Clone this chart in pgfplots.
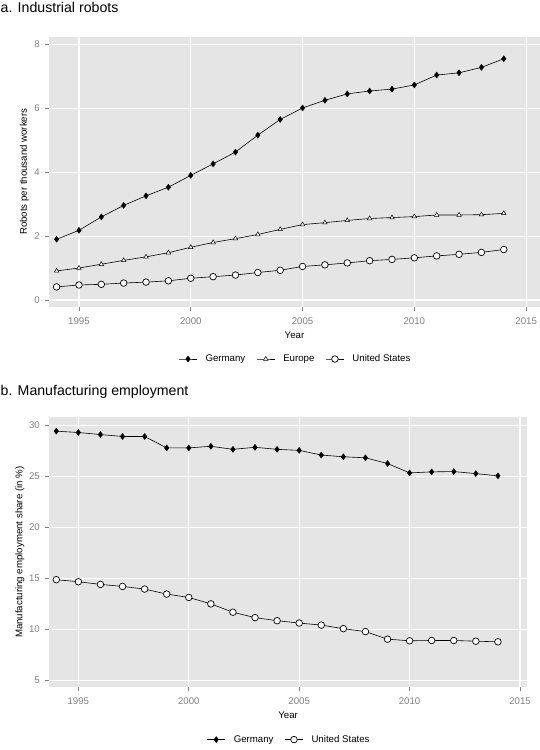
\documentclass[border=0pt]{standalone}
\usepackage{fontspec}
\setmainfont{Liberation Sans}
\usepackage{pgfplots}
\pgfplotsset{compat=1.18}
\definecolor{panelbg}{HTML}{E5E5E5}
\definecolor{tickgray}{HTML}{7F7F7F}
\newcommand{\smallf}{\fontsize{9.7}{11}\selectfont}
\pgfplotsset{
  ggstyle/.style={
    scale only axis,
    axis background/.style={fill=panelbg},
    axis line style={draw=none},
    grid=major,
    major grid style={white, line width=1.1bp},
    tick align=outside,
    major tick length=4bp,
    tick style={tickgray, line width=0.6bp},
    xtick pos=left, ytick pos=left,
    ticklabel style={font=\smallf, text=tickgray},
    /pgf/number format/assume math mode=true,
    /pgf/number format/1000 sep={},
    xtick={1995,2000,2005,2010,2015},
    xticklabel style={anchor=north, inner sep=0pt, yshift=-6.5bp},
    yticklabel style={anchor=east, inner sep=0pt, xshift=-5bp},
    every axis x label/.style={at={(axis description cs:0.5,0)}, anchor=center, yshift=-28.3bp, font=\smallf},
    legend style={draw=none, fill=none, font=\smallf, at={(0.5,0)}, anchor=center, yshift=-52.3bp,
      nodes={inner xsep=0pt, inner ysep=1pt},
      /tikz/every odd column/.append style={column sep=8bp},
      /tikz/every even column/.append style={column sep=11bp}},
    legend image code/.code={\draw[mark repeat=2, mark phase=2, #1] plot coordinates {(0bp,0bp) (9.2bp,0bp) (18.4bp,0bp)};},
  },
  ger/.style={black, line width=0.6bp, mark=diamond*, mark size=3bp, mark options={fill=black, line width=0.4bp}},
  eur/.style={black, line width=0.6bp, mark=triangle*, mark size=2.6bp, mark options={fill=white, line width=0.5bp}},
  usa/.style={black, line width=0.6bp, mark=*, mark size=3.3bp, mark options={fill=white, line width=0.7bp}},
}
\begin{document}
\begin{tikzpicture}
\path[use as bounding box] (0bp,0bp) rectangle (540bp,-750bp);
\node[anchor=base west, inner sep=0pt, font=\fontsize{14.2}{16}\selectfont] at (0.5bp,-12.3bp) {a. Industrial robots};
\node[anchor=base west, inner sep=0pt, font=\fontsize{14.2}{16}\selectfont] at (0.5bp,-395.8bp) {b. Manufacturing employment};
\begin{axis}[ggstyle,
  at={(49bp,-306.7bp)}, anchor=south west,
  width=491bp, height=270bp,
  xmin=1993.66, xmax=2015.62, ymin=-0.21, ymax=8.24,
  ytick={0,2,4,6,8},
  xlabel={Year},
  ylabel={Robots per thousand workers},
  every axis y label/.style={at={(axis description cs:0,0.5)}, xshift=-24.5bp, rotate=90, anchor=center, font=\smallf},
  legend columns=3,
]
\addplot[ger] coordinates {
(1994,1.90) (1995,2.18) (1996,2.60) (1997,2.96) (1998,3.26) (1999,3.53) (2000,3.90)
(2001,4.26) (2002,4.63) (2003,5.16) (2004,5.65) (2005,6.01) (2006,6.25) (2007,6.45)
(2008,6.54) (2009,6.60) (2010,6.73) (2011,7.04) (2012,7.11) (2013,7.28) (2014,7.55)};
\addlegendentry{Germany}
\addplot[eur] coordinates {
(1994,0.91) (1995,1.00) (1996,1.12) (1997,1.24) (1998,1.35) (1999,1.48) (2000,1.65)
(2001,1.80) (2002,1.92) (2003,2.05) (2004,2.21) (2005,2.36) (2006,2.42) (2007,2.49)
(2008,2.55) (2009,2.58) (2010,2.61) (2011,2.66) (2012,2.66) (2013,2.67) (2014,2.71)};
\addlegendentry{Europe}
\addplot[usa] coordinates {
(1994,0.41) (1995,0.47) (1996,0.49) (1997,0.53) (1998,0.56) (1999,0.60) (2000,0.68)
(2001,0.73) (2002,0.78) (2003,0.86) (2004,0.93) (2005,1.05) (2006,1.10) (2007,1.16)
(2008,1.23) (2009,1.27) (2010,1.32) (2011,1.38) (2012,1.43) (2013,1.49) (2014,1.58)};
\addlegendentry{United States}
\end{axis}
\begin{axis}[ggstyle,
  at={(49bp,-687.3bp)}, anchor=south west,
  width=478.3bp, height=270bp,
  xmin=1993.67, xmax=2015.33, ymin=4.3, ymax=30.77,
  ytick={5,10,15,20,25,30},
  xlabel={Year},
  ylabel={Manufacturing employment share (in \%)},
  every axis y label/.style={at={(axis description cs:0,0.5)}, xshift=-29bp, rotate=90, anchor=center, font=\smallf},
  legend columns=2,
]
\addplot[ger] coordinates {
(1994,29.41) (1995,29.28) (1996,29.08) (1997,28.89) (1998,28.89) (1999,27.77) (2000,27.77)
(2001,27.93) (2002,27.63) (2003,27.83) (2004,27.63) (2005,27.53) (2006,27.07) (2007,26.90)
(2008,26.80) (2009,26.24) (2010,25.32) (2011,25.42) (2012,25.45) (2013,25.25) (2014,25.03)};
\addlegendentry{Germany}
\addplot[usa] coordinates {
(1994,14.85) (1995,14.65) (1996,14.39) (1997,14.19) (1998,13.93) (1999,13.44) (2000,13.11)
(2001,12.48) (2002,11.66) (2003,11.13) (2004,10.83) (2005,10.60) (2006,10.40) (2007,10.05)
(2008,9.76) (2009,9.02) (2010,8.86) (2011,8.89) (2012,8.89) (2013,8.82) (2014,8.76)};
\addlegendentry{United States}
\end{axis}
\end{tikzpicture}
\end{document}
